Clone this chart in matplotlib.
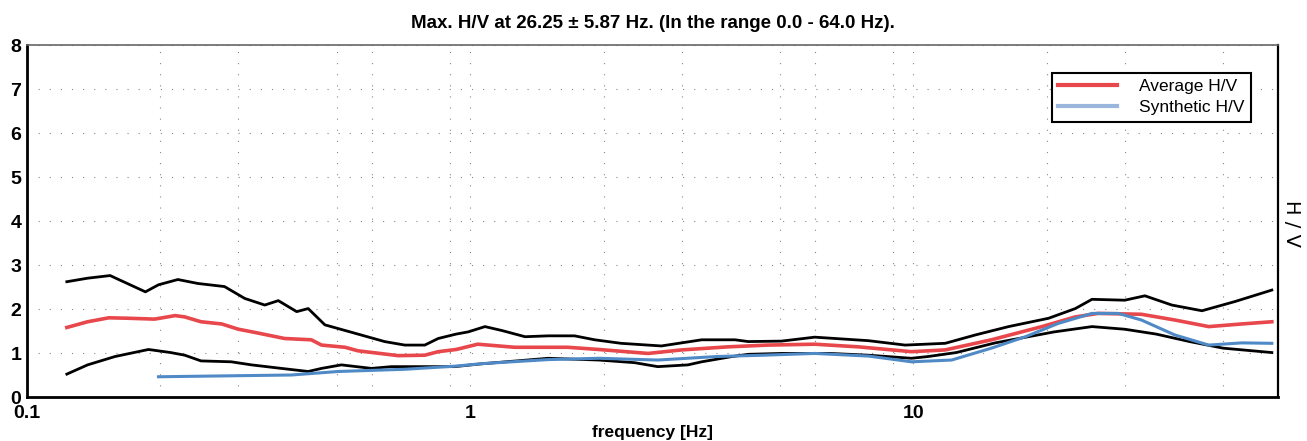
import matplotlib
matplotlib.use("Agg")
import matplotlib.pyplot as plt
from matplotlib.ticker import FixedLocator, NullFormatter

plt.rcParams['font.family'] = ['Liberation Sans', 'DejaVu Sans']

# ---- data ----
upper_f = [0.123, 0.137, 0.154, 0.185, 0.198, 0.219, 0.243, 0.279, 0.310, 0.344, 0.369,
           0.406, 0.431, 0.470, 0.549, 0.641, 0.712, 0.790, 0.847, 0.930, 0.99, 1.08,
           1.18, 1.33, 1.50, 1.72, 1.91, 2.19, 2.70, 3.33, 3.96, 4.24, 5.04, 5.99, 7.13,
           7.92, 9.58, 11.8, 13.8, 16.4, 20.2, 23.2, 25.3, 30.0, 33.3, 38.3, 44.8, 53.2, 64.4]
upper_v = [2.62, 2.70, 2.76, 2.39, 2.55, 2.67, 2.58, 2.51, 2.24, 2.09, 2.19,
           1.94, 2.01, 1.64, 1.45, 1.26, 1.18, 1.18, 1.33, 1.43, 1.48, 1.60,
           1.51, 1.37, 1.39, 1.39, 1.30, 1.22, 1.16, 1.30, 1.30, 1.26, 1.27, 1.36, 1.31,
           1.28, 1.18, 1.22, 1.41, 1.60, 1.79, 2.01, 2.22, 2.20, 2.30, 2.09, 1.96, 2.17, 2.43]

avg_f = [0.123, 0.137, 0.153, 0.169, 0.194, 0.216, 0.227, 0.247, 0.275, 0.300, 0.326,
         0.381, 0.438, 0.462, 0.522, 0.558, 0.688, 0.79, 0.847, 0.93, 1.04, 1.26,
         1.66, 1.95, 2.52, 3.0, 3.82, 4.70, 5.99, 7.51, 9.9, 11.8, 15.0, 19.5, 23.2,
         26.1, 32.7, 38.9, 46.4, 55.1, 64.4]
avg_v = [1.58, 1.71, 1.80, 1.79, 1.77, 1.85, 1.82, 1.71, 1.66, 1.54, 1.47,
         1.33, 1.30, 1.18, 1.13, 1.05, 0.94, 0.95, 1.03, 1.08, 1.20, 1.13,
         1.13, 1.08, 0.99, 1.07, 1.14, 1.18, 1.20, 1.14, 1.03, 1.07, 1.30, 1.60, 1.82,
         1.90, 1.88, 1.75, 1.60, 1.66, 1.71]

lower_f = [0.123, 0.137, 0.158, 0.188, 0.211, 0.227, 0.247, 0.289, 0.321, 0.375, 0.431,
           0.462, 0.512, 0.599, 0.664, 0.776, 0.923, 1.05, 1.5, 1.95, 2.35, 2.65, 3.1,
           3.33, 3.9, 4.24, 5.04, 6.5, 7.92, 9.9, 10.8, 12.5, 15.3, 20.8, 25.3, 30.0,
           35.3, 42.0, 50.0, 64.4]
lower_v = [0.52, 0.73, 0.92, 1.08, 1.01, 0.95, 0.82, 0.80, 0.73, 0.65, 0.58,
           0.65, 0.73, 0.65, 0.69, 0.69, 0.69, 0.75, 0.88, 0.84, 0.78, 0.69, 0.73,
           0.80, 0.92, 0.97, 0.99, 0.99, 0.95, 0.88, 0.92, 1.01, 1.23, 1.48, 1.60, 1.54,
           1.43, 1.26, 1.11, 1.01]

syn_f = [0.198, 0.395, 0.504, 0.712, 0.923, 1.07, 1.50, 1.95, 2.65, 3.6, 4.6, 5.99,
         7.92, 9.9, 12.2, 15.0, 17.9, 21.2, 25.3, 29.0, 32.7, 38.9, 46.4, 55.1, 64.4]
syn_v = [0.46, 0.50, 0.58, 0.63, 0.70, 0.76, 0.85, 0.88, 0.84, 0.92, 0.95, 0.99,
         0.93, 0.80, 0.84, 1.11, 1.37, 1.67, 1.90, 1.90, 1.75, 1.41, 1.18, 1.23, 1.22]

x_ticks = [0.1, 1, 10]
x_tick_labels = ["0.1", "1", "10"]
y_ticks = [0, 1, 2, 3, 4, 5, 6, 7, 8]

title = "Max. H/V at 26.25 \u00b1 5.87 Hz. (In the range 0.0 - 64.0 Hz)."

# ---- figure ----
fig = plt.figure(figsize=(13.07, 4.41), dpi=100)
ax = fig.add_axes([27/1307, 1 - 397/441, (1278 - 27)/1307, (397 - 45)/441])

ax.set_xscale('log')
ax.set_xlim(0.1, 66.5)
ax.set_ylim(0, 8)

grid_kw = dict(color='#888888', linewidth=0.8, linestyle=(0, (1, 9)))
ax.xaxis.set_minor_locator(FixedLocator([0.2, 0.3, 0.5, 0.6, 0.9, 2, 3, 5, 6, 9, 20, 30, 50]))
ax.xaxis.set_minor_formatter(NullFormatter())
ax.set_xticks(x_ticks)
ax.set_xticklabels(x_tick_labels)
ax.set_yticks(y_ticks)
ax.set_yticklabels([str(v) for v in y_ticks])
ax.grid(True, which='major', axis='y', **grid_kw)
ax.grid(True, which='both', axis='x', **grid_kw)

ax.plot(upper_f, upper_v, color='black', lw=2.0, zorder=3)
ax.plot(lower_f, lower_v, color='black', lw=2.0, zorder=3)
ax.plot(avg_f, avg_v, color='#e8474c', lw=2.6, zorder=4, label='Average H/V')
ax.plot(syn_f, syn_v, color='#4f8ac6', lw=2.2, zorder=5, label='Synthetic H/V')

for s in ['left', 'bottom']:
    ax.spines[s].set_linewidth(2.0)
    ax.spines[s].set_color('black')
ax.spines['right'].set_linewidth(1.6)
ax.spines['top'].set_linewidth(1.2)
ax.spines['top'].set_color('#666666')

ax.tick_params(axis='both', which='both', length=0, labelsize=14, pad=4)
ax.tick_params(axis='x', pad=6)
for lab in ax.get_xticklabels() + ax.get_yticklabels():
    lab.set_fontweight('bold')

ax.set_xlabel("frequency [Hz]", fontsize=12.5, fontweight='bold', labelpad=2)
ax.set_title(title, fontsize=13.5, fontweight='bold', pad=12)
fig.text(1291/1307, 1 - 223/441, "H / V", rotation=270, fontsize=14,
         ha='center', va='center', family=['DejaVu Sans'])

leg = ax.legend(loc='upper right', bbox_to_anchor=((1251 - 27)/1251, (397 - 73)/352),
                borderaxespad=0, fontsize=12.5,
                frameon=True, fancybox=False, edgecolor='black', framealpha=1,
                handlelength=3.4, handletextpad=1.3, borderpad=0.35, labelspacing=0.35)
leg.get_frame().set_linewidth(1.5)
leg.get_lines()[1].set_color('#9ab6dc')
leg.get_lines()[0].set_linewidth(3)
leg.get_lines()[1].set_linewidth(3)

fig.savefig("out.png", dpi=100)
